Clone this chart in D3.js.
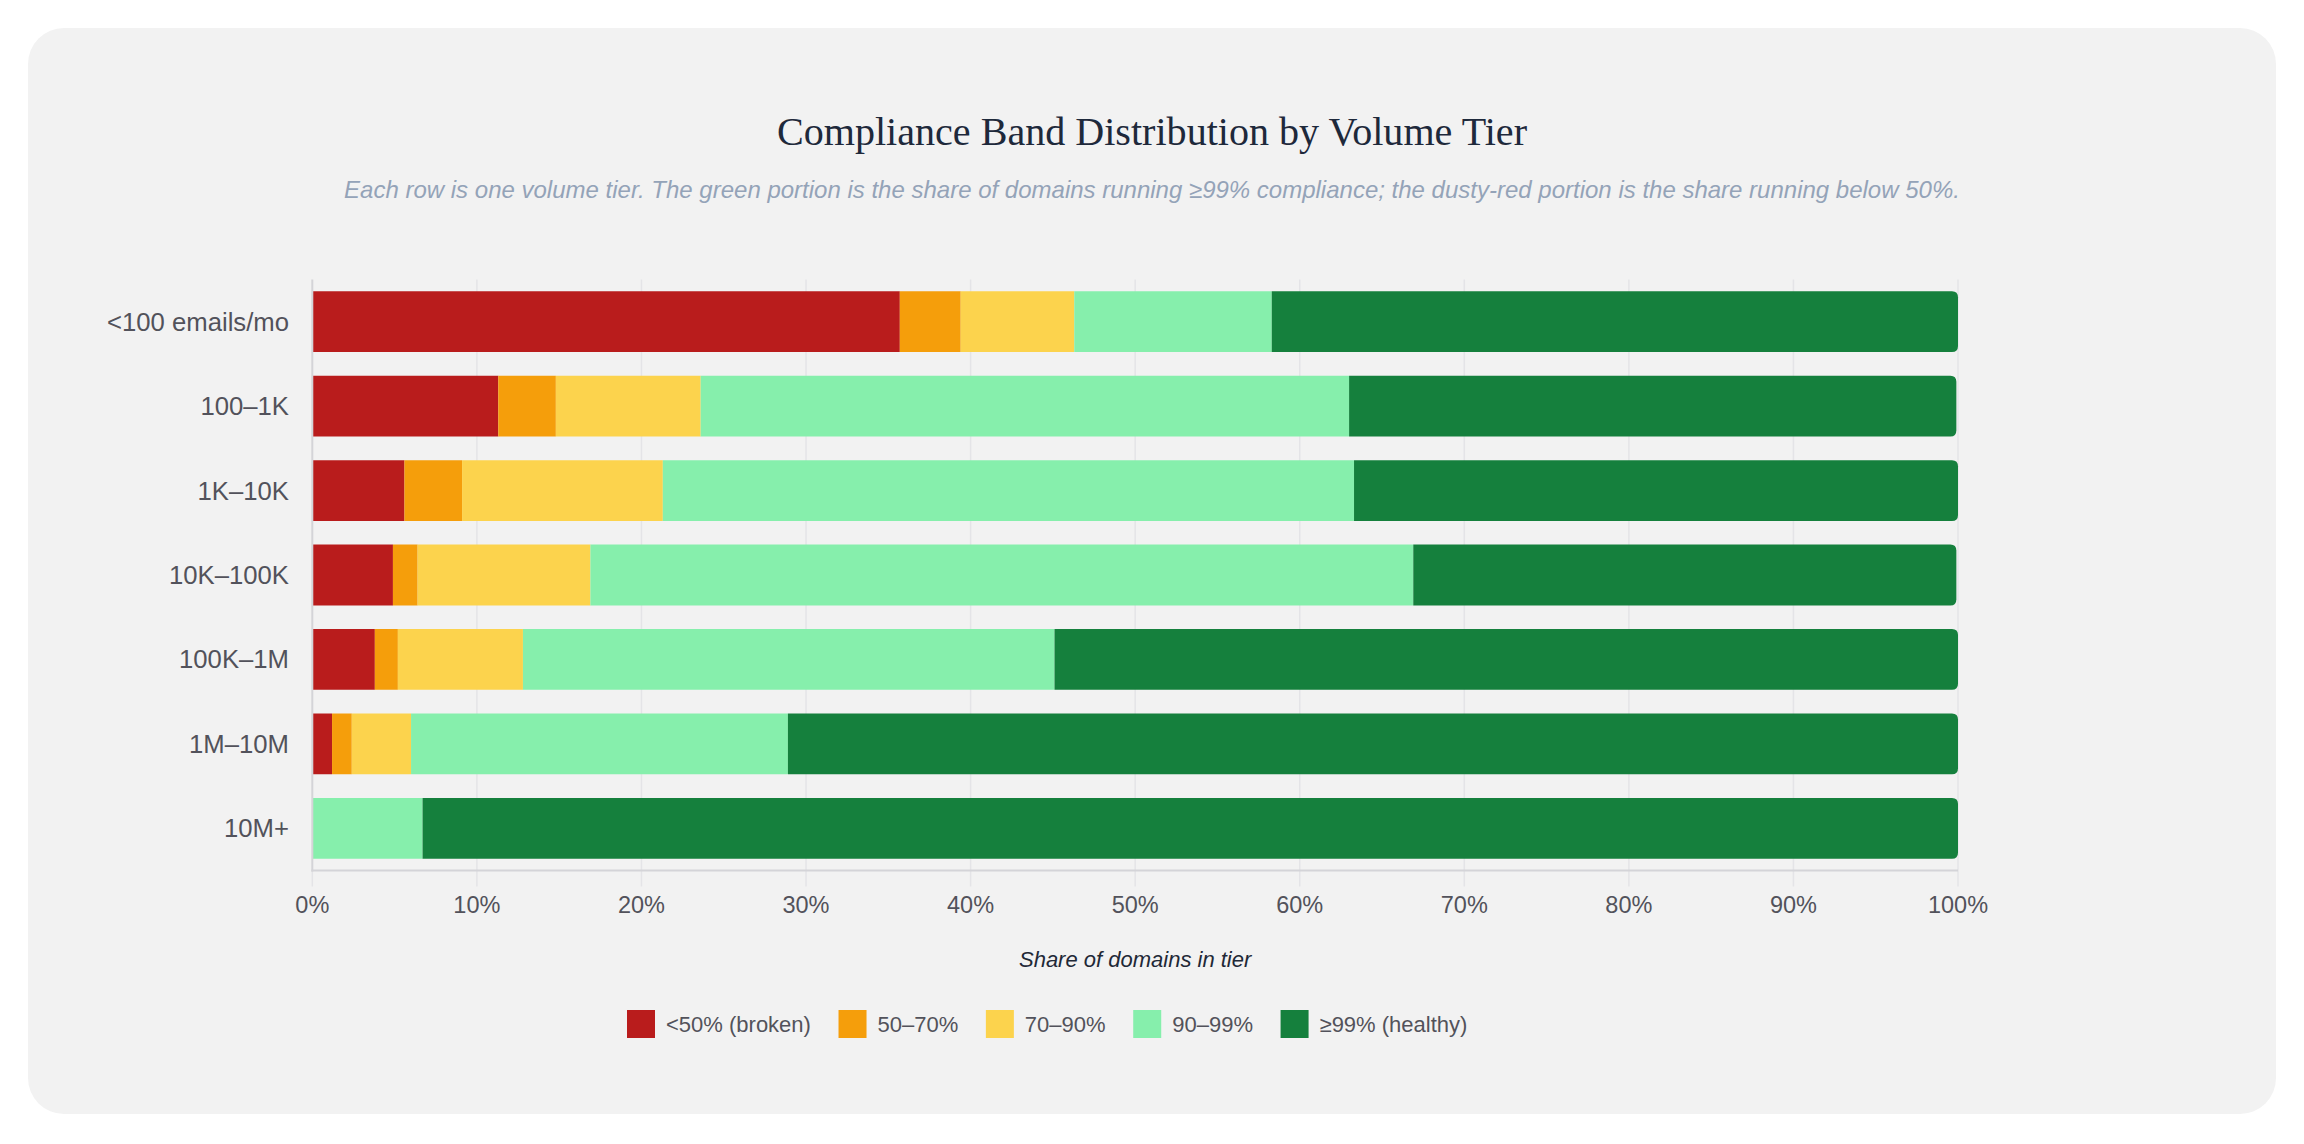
<!DOCTYPE html>
<html>
<head>
<meta charset="utf-8">
<script src="https://cdn.jsdelivr.net/npm/d3@7/dist/d3.min.js"></script>
<style>
  html, body { margin: 0; padding: 0; background: #ffffff; }
  svg { display: block; }
</style>
</head>
<body>
<svg id="chart" width="2304" height="1144"></svg>
<script>
// ---- Data ----
const tiers = ["<100 emails/mo", "100–1K", "1K–10K", "10K–100K", "100K–1M", "1M–10M", "10M+"];
const bandKeys = ["broken", "b50_70", "b70_90", "b90_99", "healthy"];
const bandLabels = ["<50% (broken)", "50–70%", "70–90%", "90–99%", "≥99% (healthy)"];
const bandColors = ["#b91c1c", "#f59e0b", "#fcd34d", "#86efac", "#15803d"];
const broken  = [35.7, 11.3,  5.6,  4.9,  3.8,  1.2,  0.0];
const b50_70  = [ 3.7,  3.5,  3.5,  1.5,  1.4,  1.2,  0.0];
const b70_90  = [ 6.9,  8.8, 12.2, 10.5,  7.6,  3.6,  0.0];
const b90_99  = [12.0, 39.4, 42.0, 50.0, 32.3, 22.9,  6.7];
const healthy = [41.7, 36.9, 36.7, 33.0, 54.9, 71.1, 93.3];
const xTicks = [0, 10, 20, 30, 40, 50, 60, 70, 80, 90, 100];
const titleText = "Compliance Band Distribution by Volume Tier";
const subtitleText = "Each row is one volume tier. The green portion is the share of domains running ≥99% compliance; the dusty-red portion is the share running below 50%.";
const xAxisTitle = "Share of domains in tier";

const seriesArrays = { broken, b50_70, b70_90, b90_99, healthy };
const rows = tiers.map((t, i) => {
  const r = { tier: t };
  bandKeys.forEach(k => r[k] = seriesArrays[k][i]);
  return r;
});

// ---- Layout ----
const W = 2304, H = 1144;
const sans = "'Liberation Sans', Arial, sans-serif";
const serif = "'Liberation Serif', 'Times New Roman', serif";
const svg = d3.select("#chart");

svg.append("rect")
  .attr("x", 28).attr("y", 28).attr("width", W - 56).attr("height", 1086)
  .attr("rx", 36).attr("ry", 36).attr("fill", "#f2f2f2");

svg.append("text")
  .attr("x", 1152).attr("y", 145).attr("text-anchor", "middle")
  .attr("font-family", serif).attr("font-size", 40.1).attr("fill", "#1e293b")
  .text(titleText);

svg.append("text")
  .attr("x", 1152).attr("y", 198).attr("text-anchor", "middle")
  .attr("font-family", sans).attr("font-style", "italic").attr("font-size", 24)
  .attr("fill", "#94a3b8")
  .text(subtitleText);

const plotLeft = 312.3, plotRight = 1958, plotTop = 279.5, plotBottom = 870.5;
const x = d3.scaleLinear().domain([0, 100]).range([plotLeft, plotRight]);
const y = d3.scaleBand().domain(tiers).range([plotTop, plotBottom])
  .paddingInner(0.28).paddingOuter(0.14);

// grid lines + tick marks
const grid = svg.append("g");
grid.selectAll("line").data(xTicks.slice(1)).join("line")
  .attr("x1", d => x(d)).attr("x2", d => x(d))
  .attr("y1", plotTop).attr("y2", plotBottom + 16)
  .attr("stroke", "#e4e4e7").attr("stroke-width", 1.5);
grid.append("line")
  .attr("x1", x(0)).attr("x2", x(0)).attr("y1", plotBottom).attr("y2", plotBottom + 16)
  .attr("stroke", "#e4e4e7").attr("stroke-width", 1.5);

// stacked bars
const stack = d3.stack().keys(bandKeys);
const stacked = stack(rows);
const lastKey = bandKeys[bandKeys.length - 1];
const radius = 6;

function segPath(x0, x1, y0, h, roundRight) {
  const w = Math.max(0, x1 - x0);
  if (!roundRight || w <= 0) {
    return `M${x0},${y0}H${x1}V${y0 + h}H${x0}Z`;
  }
  const r = Math.min(radius, w, h / 2);
  return `M${x0},${y0}H${x1 - r}Q${x1},${y0} ${x1},${y0 + r}V${y0 + h - r}Q${x1},${y0 + h} ${x1 - r},${y0 + h}H${x0}Z`;
}

const barsG = svg.append("g");
stacked.forEach((layer, li) => {
  barsG.append("g").attr("fill", bandColors[li])
    .selectAll("path").data(layer).join("path")
    .attr("d", d => segPath(x(d[0]), x(d[1]), y(d.data.tier), y.bandwidth(), layer.key === lastKey))
    .attr("display", d => (d[1] - d[0]) > 0 ? null : "none");
});

// axes lines
svg.append("line")
  .attr("x1", plotLeft).attr("x2", plotLeft).attr("y1", plotTop).attr("y2", plotBottom + 1)
  .attr("stroke", "#d4d4d8").attr("stroke-width", 2);
svg.append("line")
  .attr("x1", plotLeft - 1).attr("x2", plotRight).attr("y1", plotBottom).attr("y2", plotBottom)
  .attr("stroke", "#d4d4d8").attr("stroke-width", 2);

// y labels
svg.append("g").selectAll("text").data(tiers).join("text")
  .attr("x", 289).attr("y", d => y(d) + y.bandwidth() / 2)
  .attr("dy", "0.35em").attr("text-anchor", "end")
  .attr("font-family", sans).attr("font-size", 25.7).attr("fill", "#52525b")
  .text(d => d);

// x tick labels
svg.append("g").selectAll("text").data(xTicks).join("text")
  .attr("x", d => x(d)).attr("y", 913).attr("text-anchor", "middle")
  .attr("font-family", sans).attr("font-size", 23.5).attr("fill", "#52525b")
  .text(d => d + "%");

// x axis title
svg.append("text")
  .attr("x", (plotLeft + plotRight) / 2).attr("y", 967).attr("text-anchor", "middle")
  .attr("font-family", sans).attr("font-style", "italic").attr("font-size", 22)
  .attr("fill", "#1f2937")
  .text(xAxisTitle);

// legend
const legend = svg.append("g");
let lx = 627;
bandLabels.forEach((lab, i) => {
  legend.append("rect").attr("x", lx).attr("y", 1010).attr("width", 28).attr("height", 28)
    .attr("fill", bandColors[i]);
  const t = legend.append("text").attr("x", lx + 39).attr("y", 1031.7)
    .attr("font-family", sans).attr("font-size", 22).attr("fill", "#52525b")
    .text(lab);
  const tw = t.node().getComputedTextLength();
  lx = lx + 39 + tw + 27.6;
});
</script>
</body>
</html>
